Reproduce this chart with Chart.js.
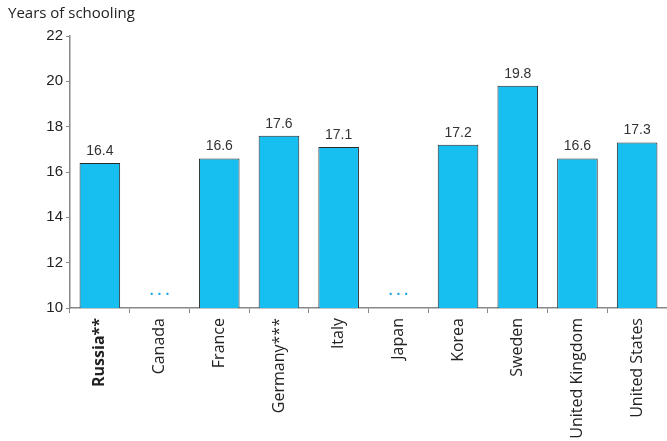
<!DOCTYPE html>
<html>
<head>
<meta charset="utf-8">
<script src="https://cdn.jsdelivr.net/npm/chart.js@4"></script>
<style>
  html, body { margin: 0; padding: 0; background: #fff; }
  #wrap { width: 667px; height: 441px; }
</style>
</head>
<body>
<div id="wrap"><canvas id="myChart" width="667" height="441"></canvas></div>
<script>
var countries = ['Russia**', 'Canada', 'France', 'Germany***', 'Italy', 'Japan', 'Korea', 'Sweden', 'United Kingdom', 'United States'];
var years = [16.4, null, 16.6, 17.6, 17.1, null, 17.2, 19.8, 16.6, 17.3];
var yTicks = [10, 12, 14, 16, 18, 20, 22];

var labelFont = '"Open Sans", "Noto Sans", sans-serif';

// value labels above bars and "..." for missing data
var barLabels = {
    id: 'barLabels',
    afterDatasetsDraw: function(chart) {
        var c = chart.ctx;
        var meta = chart.getDatasetMeta(0);
        var xs = chart.scales.x, ys = chart.scales.y;
        c.save();
        c.textAlign = 'center';
        c.textBaseline = 'bottom';
        years.forEach(function(v, i) {
            if (v === null) {
                c.fillStyle = '#1aa7e6';
                c.font = 'bold 14px "Liberation Sans", Arial, sans-serif';
                c.fillText('. . .', xs.getPixelForValue(i), ys.getPixelForValue(10.45));
            } else {
                c.fillStyle = '#333';
                c.font = '14px "Liberation Sans", Arial, sans-serif';
                c.fillText(v.toFixed(1), meta.data[i].x, meta.data[i].y - 5);
            }
        });
        c.restore();
    }
};

var ctx = document.getElementById('myChart').getContext('2d');
var myChart = new Chart(ctx, {
    type: 'bar',
    data: {
        labels: countries,
        datasets: [{
            data: years,
            backgroundColor: '#17bff0',
            borderColor: '#2a2a2a',
            borderWidth: 1,
            categoryPercentage: 1,
            barPercentage: 0.68
        }]
    },
    options: {
        responsive: false,
        animation: false,
        layout: { padding: { left: 8, right: -6, top: 0, bottom: 0 } },
        plugins: {
            legend: { display: false },
            tooltip: { enabled: false },
            title: {
                display: true,
                text: 'Years of schooling',
                align: 'start',
                color: '#222',
                font: { family: labelFont, size: 15, weight: 'normal' },
                padding: { top: 5, bottom: 13 }
            }
        },
        scales: {
            y: {
                min: 10,
                max: 22,
                afterBuildTicks: function(axis) {
                    axis.ticks = yTicks.map(function(v) { return { value: v }; });
                },
                afterFit: function(axis) { axis.width = 62; },
                border: { color: '#888', width: 1.5 },
                grid: { drawOnChartArea: false, drawTicks: true, tickLength: 4, color: '#888' },
                ticks: {
                    color: '#222',
                    padding: 3,
                    font: { family: '"Liberation Sans", Arial, sans-serif', size: 15 }
                }
            },
            x: {
                afterFit: function(axis) { axis.height = 133; },
                border: { color: '#888', width: 1.5 },
                grid: { drawOnChartArea: false, drawTicks: true, tickLength: 5, color: '#888', offset: true },
                ticks: {
                    color: '#222',
                    minRotation: 90,
                    maxRotation: 90,
                    autoSkip: false,
                    padding: 5,
                    font: function(c) {
                        return {
                            family: labelFont,
                            size: 16,
                            weight: c.index === 0 ? 'bold' : 'normal'
                        };
                    }
                }
            }
        }
    },
    plugins: [barLabels]
});
</script>
</body>
</html>
